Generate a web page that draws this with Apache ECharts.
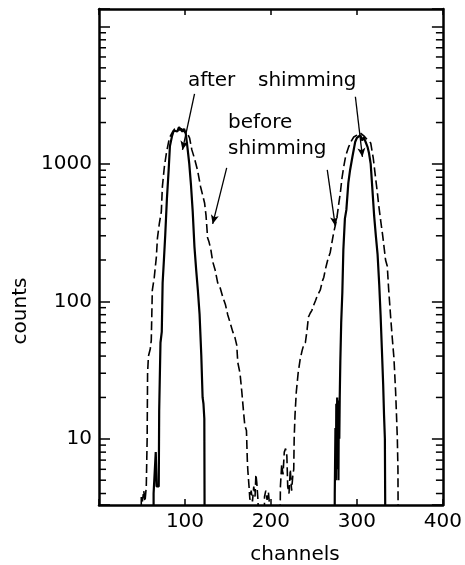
<!DOCTYPE html>
<html><head><meta charset="utf-8">
<script src="https://cdn.jsdelivr.net/npm/echarts@6/dist/echarts.min.js"></script>
<style>html,body{margin:0;padding:0;background:#fff}#c{width:465px;height:565px}</style>
</head><body><div id="c"></div>
<script>
// ---- data ----
const afterChannels = [40,63.5,63.5,65.5,66,67,69.5,70,71.5,73,74,75.5,77,79,81,82.5,85,87,89,91,93,95,97,99,101,103,105,107,109,111,113,115,117,119,120.5,121.5,122.5,123,
  274,274.2,275,275.5,276,276.5,277,277.5,278,278.5,279,279.5,280,280.7,281.7,283,284.2,286,287.7,290,292,294.7,298,300,302,304,306,308,310,312.3,314,316,318,320,322,324,326,327.5,329,330.5,331.5,332.5,333.3,400];
const afterCounts = [1,1,4,4,8,4.5,4.5,16,50,60,136,200,300,560,900,1350,1600,1750,1800,1720,1850,1780,1720,1800,1650,1300,1000,700,450,250,170,120,80,40,20,18,14,1,
  1,4,12,5,18,6,20,8,15,5,19,10,20,37,70,115,237,400,463,727,900,1124,1450,1550,1500,1620,1480,1560,1450,1331,1200,1000,650,420,300,220,130,80,45,25,15,10,1,1];

const beforeChannels = [40,49,49.2,50.5,52,53.5,55,56,56.5,57.5,59.6,60.8,62,64.3,66.7,68,70.2,72.5,73.7,76,78.4,81.9,85.4,88,92,96,100,103,105.3,108,111,114.6,118.2,122.8,124.5,126.3,128,130,132.2,135,138,141,143.9,147,149.7,152.5,155.6,158,160.2,161.4,164,166.1,168,169.6,171.5,172.5,173.1,174.5,175.5,177,178.5,180,181.5,182.5,183.5,185,186,192,192.5,194,195.5,197,198,199,
  210,211,212.5,214,215.5,217,218.5,219.5,221,222.5,224,225.5,226.5,227,228,229.5,231.6,234,236.3,238,240,242,243.6,245.6,247.6,250,252,253.4,255.5,257.4,259.7,261.5,263.2,266,269,271,272.9,275,276.8,279,280.7,282.5,284.6,287,290.4,293,296.3,300,304,308,312,316,319,321.6,324,325,327.5,330,333.3,335.3,336.8,339.2,341,343,345,346,347,347.7,348.2,400];
const beforeCounts = [1,1,3.8,3.5,4.2,3.5,4.5,10,30,40,45,52,120,150,210,290,370,450,680,950,1200,1550,1700,1800,1750,1800,1700,1650,1550,1265,1100,900,680,520,420,290,270,240,195,170,137,125,108,95,80,70,60,55,48,36,30,22,16,12.5,11.5,7,5.9,4.5,3.6,4.2,3.5,4.5,3.8,5.5,4.8,3.5,1,1,3.8,4.2,3.6,4.1,3.5,1,
  1,4.5,6.5,5.5,8,8.5,7.5,4.5,4,6,4.2,5.5,6,10,15,22,30,38,44,48,50,62,77,82,86,95,102,108,115,121,140,150,170,200,228,270,315,360,411,520,615,780,950,1150,1331,1450,1570,1620,1680,1600,1500,1420,1100,800,600,520,391,300,200,180,125,77,55,39,22,15,10,6,1,1];

const xTickLabels = [100, 200, 300, 400];
const yTickLabels = [10, 100, 1000];
const minorTickValues = [4,5,6,7,8,9,20,30,40,50,60,70,80,90,200,300,400,500,600,700,800,900,2000,3000,4000,5000,6000,7000,8000,9000];

// annotation arrows in data coordinates: [fromChannel, fromCount, toChannel, toCount]
const arrowFromX = [111.1, 298.2, 148.5, 265.5];
const arrowFromY = [3230, 3080, 935, 904];
const arrowToX   = [97.1, 306.4, 132.2, 274.8];
const arrowToY   = [1265, 1124, 366, 354];
const annotationTexts = ['after', 'shimming', 'before', 'shimming'];

// ---- chart ----
const FONT = '"DejaVu Sans", sans-serif';
const chart = echarts.init(document.getElementById('c'), null, {renderer: 'canvas'});
const zip = (xs, ys) => xs.map((x, i) => [x, ys[i]]);
const Y_MIN = 3.3, Y_MAX = 13400;

const axisBase = {
  axisLine: {show: true, onZero: false, lineStyle: {color: '#000', width: 2.5}},
  splitLine: {show: false},
  minorTick: {show: false}
};

const option = {
  animation: false,
  backgroundColor: '#fff',
  grid: {left: 99, right: 22, top: 9, bottom: 60, containLabel: false},
  xAxis: [
    Object.assign({}, axisBase, {
      type: 'value', min: 0, max: 400, interval: 100, position: 'bottom',
      axisTick: {show: true, inside: true, length: 6, lineStyle: {color: '#000', width: 1.5}},
      axisLabel: {show: true, margin: 7, color: '#000', fontFamily: FONT, fontSize: 20,
        formatter: v => xTickLabels.includes(Math.round(v)) ? String(Math.round(v)) : ''}
    }),
    Object.assign({}, axisBase, {
      type: 'value', min: 0, max: 400, interval: 100, position: 'top',
      axisTick: {show: true, inside: true, length: 6, lineStyle: {color: '#000', width: 1.5}},
      axisLabel: {show: false}
    })
  ],
  yAxis: [
    Object.assign({}, axisBase, {
      type: 'log', logBase: 10, min: Y_MIN, max: Y_MAX, position: 'left',
      axisTick: {show: true, inside: true, length: 11, lineStyle: {color: '#000', width: 1.5}},
      axisLabel: {show: true, margin: 7, color: '#000', fontFamily: FONT, fontSize: 20,
        formatter: v => yTickLabels.includes(Math.round(v)) ? String(Math.round(v)) : ''}
    }),
    Object.assign({}, axisBase, {
      type: 'log', logBase: 10, min: Y_MIN, max: Y_MAX, position: 'right',
      axisTick: {show: true, inside: true, length: 11, lineStyle: {color: '#000', width: 1.5}},
      axisLabel: {show: false}
    })
  ],
  series: [
    {
      type: 'custom', name: 'minorTicks', xAxisIndex: 0, yAxisIndex: 0, silent: true,
      data: minorTickValues.map(v => [0, v]),
      renderItem: (params, api) => {
        const v = api.value(1);
        const pl = api.coord([0, v]);
        const pr = api.coord([400, v]);
        return {type: 'group', children: [
          {type: 'line', shape: {x1: pl[0], y1: pl[1], x2: pl[0] + 7, y2: pl[1]}, style: {stroke: '#000', lineWidth: 1.5}},
          {type: 'line', shape: {x1: pr[0], y1: pr[1], x2: pr[0] - 7, y2: pr[1]}, style: {stroke: '#000', lineWidth: 1.5}}
        ]};
      }
    },
    {
      type: 'line', name: 'before shimming', xAxisIndex: 0, yAxisIndex: 0,
      data: zip(beforeChannels, beforeCounts), showSymbol: false, symbol: 'none', clip: true,
      lineStyle: {color: '#000', width: 1.6, type: [9, 4]}
    },
    {
      type: 'line', name: 'after shimming', xAxisIndex: 0, yAxisIndex: 0,
      data: zip(afterChannels, afterCounts), showSymbol: false, symbol: 'none', clip: true,
      lineStyle: {color: '#000', width: 2.2},
      markLine: {
        silent: true, animation: false,
        symbol: ['none', 'arrow'], symbolSize: [6, 9],
        label: {show: false},
        lineStyle: {color: '#000', width: 1.3, type: 'solid'},
        data: arrowFromX.map((x, i) => [
          {coord: [x, arrowFromY[i]]},
          {coord: [arrowToX[i], arrowToY[i]]}
        ])
      }
    }
  ],
  graphic: [
    {type: 'text', x: 188, y: 81, style: {text: annotationTexts[0], font: '20px ' + FONT, fill: '#000', verticalAlign: 'middle'}},
    {type: 'text', x: 258, y: 81, style: {text: annotationTexts[1], font: '20px ' + FONT, fill: '#000', verticalAlign: 'middle'}},
    {type: 'text', x: 228, y: 123, style: {text: annotationTexts[2], font: '20px ' + FONT, fill: '#000', verticalAlign: 'middle'}},
    {type: 'text', x: 228, y: 149, style: {text: annotationTexts[3], font: '20px ' + FONT, fill: '#000', verticalAlign: 'middle'}},
    {type: 'text', x: 295, y: 555, style: {text: 'channels', font: '20px ' + FONT, fill: '#000', align: 'center', verticalAlign: 'middle'}},
    {type: 'text', x: 21, y: 311, rotation: Math.PI / 2, style: {text: 'counts', font: '20px ' + FONT, fill: '#000', align: 'center', verticalAlign: 'middle'}}
  ]
};
chart.setOption(option);
</script>
</body></html>
